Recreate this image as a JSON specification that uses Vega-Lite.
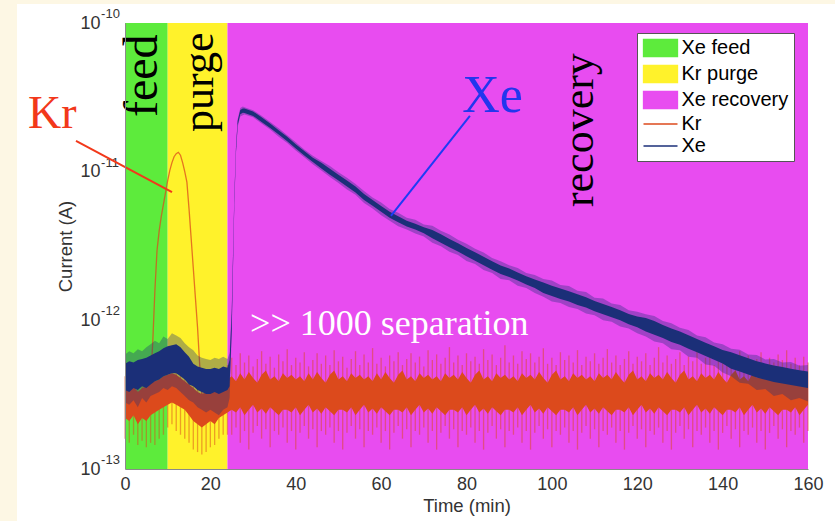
{
  "$schema": "https://vega.github.io/schema/vega-lite/v6.json",
  "width": 683,
  "height": 446,
  "autosize": "none",
  "padding": {"left": 125, "top": 23, "right": 27, "bottom": 52},
  "background": "#FDF7E4",
  "config": {
    "view": {"stroke": null},
    "font": "Liberation Sans",
    "axis": {"grid": false, "ticks": false, "domainColor": "#8a8a8a", "labelColor": "#333333", "titleColor": "#333333", "labelFont": "Liberation Sans", "titleFont": "Liberation Sans", "titleFontWeight": "normal", "labelFontSize": 18, "titleFontSize": 18.5}
  },
  "datasets": {
    "panel": [{"t": -25.3, "t2": 200, "v": 1.343e-10, "v2": 3e-14}],
    "regions": [
      {"t": 0, "t2": 10, "label": "Xe feed"},
      {"t": 10, "t2": 24, "label": "Kr purge"},
      {"t": 24, "t2": 160, "label": "Xe recovery"}
    ],
    "exponents": [
      {"t": -5.6, "v": 1e-10, "text": "-10"},
      {"t": -5.6, "v": 1e-11, "text": "-11"},
      {"t": -5.6, "v": 1e-12, "text": "-12"},
      {"t": -5.6, "v": 1e-13, "text": "-13"}
    ],
    "kr": [
      {"t":0,"lo":2.2e-13,"hi":3.5e-13,"slo":1.6e-13,"shi":4.2e-13},
      {"t":1,"lo":2.1e-13,"hi":3.4e-13,"slo":1.5e-13,"shi":4.0e-13},
      {"t":2,"lo":2.3e-13,"hi":3.6e-13,"slo":1.7e-13,"shi":4.4e-13},
      {"t":3,"lo":2.0e-13,"hi":3.3e-13,"slo":1.45e-13,"shi":3.9e-13},
      {"t":4,"lo":2.2e-13,"hi":3.5e-13,"slo":1.55e-13,"shi":4.3e-13},
      {"t":5,"lo":2.1e-13,"hi":3.6e-13,"slo":1.4e-13,"shi":4.5e-13},
      {"t":6,"lo":2.3e-13,"hi":3.8e-13,"slo":1.5e-13,"shi":4.8e-13},
      {"t":7,"lo":2.4e-13,"hi":3.9e-13,"slo":1.45e-13,"shi":5.0e-13},
      {"t":8,"lo":2.5e-13,"hi":4.0e-13,"slo":1.6e-13,"shi":5.2e-13},
      {"t":9,"lo":2.6e-13,"hi":4.2e-13,"slo":1.7e-13,"shi":5.5e-13},
      {"t":10,"lo":2.7e-13,"hi":4.3e-13,"slo":1.9e-13,"shi":5.6e-13},
      {"t":11,"lo":2.8e-13,"hi":4.4e-13,"slo":2.0e-13,"shi":5.8e-13},
      {"t":12,"lo":2.7e-13,"hi":4.3e-13,"slo":1.8e-13,"shi":5.7e-13},
      {"t":13,"lo":2.6e-13,"hi":4.1e-13,"slo":1.7e-13,"shi":5.3e-13},
      {"t":14,"lo":2.5e-13,"hi":3.9e-13,"slo":1.6e-13,"shi":5.0e-13},
      {"t":15,"lo":2.3e-13,"hi":3.7e-13,"slo":1.5e-13,"shi":4.6e-13},
      {"t":16,"lo":2.1e-13,"hi":3.5e-13,"slo":1.35e-13,"shi":4.4e-13},
      {"t":17,"lo":2.0e-13,"hi":3.3e-13,"slo":1.3e-13,"shi":4.2e-13},
      {"t":18,"lo":1.9e-13,"hi":3.2e-13,"slo":1.25e-13,"shi":4.0e-13},
      {"t":19,"lo":2.0e-13,"hi":3.3e-13,"slo":1.3e-13,"shi":4.1e-13},
      {"t":20,"lo":2.1e-13,"hi":3.4e-13,"slo":1.4e-13,"shi":4.2e-13},
      {"t":21,"lo":2.0e-13,"hi":3.3e-13,"slo":1.45e-13,"shi":4.1e-13},
      {"t":22,"lo":2.2e-13,"hi":3.5e-13,"slo":1.6e-13,"shi":4.3e-13},
      {"t":23,"lo":2.3e-13,"hi":3.7e-13,"slo":1.7e-13,"shi":4.6e-13},
      {"t":24,"lo":2.4e-13,"hi":4.0e-13,"slo":1.7e-13,"shi":5.0e-13},
      {"t":25,"lo":2.5e-13,"hi":4.2e-13,"slo":1.7e-13,"shi":5.6e-13},
      {"t":26,"lo":2.4e-13,"hi":3.9e-13,"slo":1.9e-13,"shi":5.0e-13},
      {"t":27,"lo":2.6e-13,"hi":4.4e-13,"slo":1.5e-13,"shi":6.0e-13},
      {"t":28,"lo":2.3e-13,"hi":4.0e-13,"slo":1.8e-13,"shi":5.2e-13},
      {"t":29,"lo":2.5e-13,"hi":4.5e-13,"slo":1.35e-13,"shi":5.8e-13},
      {"t":30,"lo":2.7e-13,"hi":4.1e-13,"slo":1.75e-13,"shi":4.9e-13},
      {"t":31,"lo":2.4e-13,"hi":3.8e-13,"slo":1.95e-13,"shi":5.5e-13},
      {"t":32,"lo":2.55e-13,"hi":4.3e-13,"slo":1.6e-13,"shi":6.2e-13},
      {"t":33,"lo":2.35e-13,"hi":4.6e-13,"slo":1.85e-13,"shi":5.1e-13},
      {"t":34,"lo":2.6e-13,"hi":4.0e-13,"slo":1.4e-13,"shi":5.7e-13},
      {"t":35,"lo":2.45e-13,"hi":4.2e-13,"slo":1.8e-13,"shi":4.8e-13},
      {"t":36,"lo":2.3e-13,"hi":3.9e-13,"slo":1.7e-13,"shi":5.9e-13},
      {"t":37,"lo":2.5e-13,"hi":4.4e-13,"slo":1.9e-13,"shi":5.3e-13},
      {"t":38,"lo":2.5e-13,"hi":4.1e-13,"slo":1.5e-13,"shi":6.4e-13},
      {"t":39,"lo":2.4e-13,"hi":4.3e-13,"slo":1.8e-13,"shi":5.0e-13},
      {"t":40,"lo":2.6e-13,"hi":4.0e-13,"slo":1.35e-13,"shi":5.6e-13},
      {"t":41,"lo":2.3e-13,"hi":4.2e-13,"slo":1.75e-13,"shi":5.2e-13},
      {"t":42,"lo":2.5e-13,"hi":3.9e-13,"slo":1.95e-13,"shi":6.1e-13},
      {"t":43,"lo":2.7e-13,"hi":4.4e-13,"slo":1.6e-13,"shi":4.9e-13},
      {"t":44,"lo":2.4e-13,"hi":4.0e-13,"slo":1.85e-13,"shi":5.4e-13},
      {"t":45,"lo":2.55e-13,"hi":4.5e-13,"slo":1.4e-13,"shi":6.0e-13},
      {"t":46,"lo":2.35e-13,"hi":4.1e-13,"slo":1.8e-13,"shi":5.1e-13},
      {"t":47,"lo":2.6e-13,"hi":3.8e-13,"slo":1.7e-13,"shi":5.8e-13},
      {"t":48,"lo":2.45e-13,"hi":4.3e-13,"slo":1.9e-13,"shi":5.0e-13},
      {"t":49,"lo":2.3e-13,"hi":4.6e-13,"slo":1.5e-13,"shi":6.3e-13},
      {"t":50,"lo":2.5e-13,"hi":4.0e-13,"slo":1.8e-13,"shi":5.3e-13},
      {"t":51,"lo":2.5e-13,"hi":4.2e-13,"slo":1.35e-13,"shi":5.7e-13},
      {"t":52,"lo":2.4e-13,"hi":3.9e-13,"slo":1.75e-13,"shi":4.8e-13},
      {"t":53,"lo":2.6e-13,"hi":4.4e-13,"slo":1.95e-13,"shi":5.5e-13},
      {"t":54,"lo":2.3e-13,"hi":4.1e-13,"slo":1.6e-13,"shi":6.2e-13},
      {"t":55,"lo":2.5e-13,"hi":4.3e-13,"slo":1.85e-13,"shi":5.0e-13},
      {"t":56,"lo":2.7e-13,"hi":4.0e-13,"slo":1.4e-13,"shi":5.9e-13},
      {"t":57,"lo":2.4e-13,"hi":4.2e-13,"slo":1.8e-13,"shi":5.2e-13},
      {"t":58,"lo":2.55e-13,"hi":3.9e-13,"slo":1.7e-13,"shi":6.5e-13},
      {"t":59,"lo":2.35e-13,"hi":4.4e-13,"slo":1.9e-13,"shi":5.1e-13},
      {"t":60,"lo":2.6e-13,"hi":4.0e-13,"slo":1.5e-13,"shi":5.6e-13},
      {"t":61,"lo":2.45e-13,"hi":4.5e-13,"slo":1.8e-13,"shi":4.9e-13},
      {"t":62,"lo":2.3e-13,"hi":4.1e-13,"slo":1.35e-13,"shi":5.8e-13},
      {"t":63,"lo":2.5e-13,"hi":3.8e-13,"slo":1.75e-13,"shi":5.3e-13},
      {"t":64,"lo":2.5e-13,"hi":4.3e-13,"slo":1.95e-13,"shi":6.1e-13},
      {"t":65,"lo":2.4e-13,"hi":4.6e-13,"slo":1.6e-13,"shi":5.0e-13},
      {"t":66,"lo":2.6e-13,"hi":4.0e-13,"slo":1.85e-13,"shi":5.5e-13},
      {"t":67,"lo":2.3e-13,"hi":4.2e-13,"slo":1.4e-13,"shi":6.0e-13},
      {"t":68,"lo":2.5e-13,"hi":3.9e-13,"slo":1.8e-13,"shi":5.2e-13},
      {"t":69,"lo":2.7e-13,"hi":4.4e-13,"slo":1.7e-13,"shi":5.7e-13},
      {"t":70,"lo":2.4e-13,"hi":4.1e-13,"slo":1.9e-13,"shi":4.9e-13},
      {"t":71,"lo":2.55e-13,"hi":4.3e-13,"slo":1.5e-13,"shi":6.3e-13},
      {"t":72,"lo":2.35e-13,"hi":4.0e-13,"slo":1.8e-13,"shi":5.4e-13},
      {"t":73,"lo":2.6e-13,"hi":4.2e-13,"slo":1.35e-13,"shi":5.9e-13},
      {"t":74,"lo":2.45e-13,"hi":3.9e-13,"slo":1.75e-13,"shi":5.1e-13},
      {"t":75,"lo":2.3e-13,"hi":4.4e-13,"slo":1.95e-13,"shi":5.6e-13},
      {"t":76,"lo":2.5e-13,"hi":4.1e-13,"slo":1.6e-13,"shi":6.6e-13},
      {"t":77,"lo":2.5e-13,"hi":4.3e-13,"slo":1.85e-13,"shi":5.2e-13},
      {"t":78,"lo":2.4e-13,"hi":4.0e-13,"slo":1.4e-13,"shi":5.8e-13},
      {"t":79,"lo":2.6e-13,"hi":4.5e-13,"slo":1.8e-13,"shi":5.0e-13},
      {"t":80,"lo":2.3e-13,"hi":4.1e-13,"slo":1.7e-13,"shi":6.0e-13},
      {"t":81,"lo":2.5e-13,"hi":3.8e-13,"slo":1.9e-13,"shi":5.3e-13},
      {"t":82,"lo":2.7e-13,"hi":4.3e-13,"slo":1.5e-13,"shi":5.7e-13},
      {"t":83,"lo":2.4e-13,"hi":4.6e-13,"slo":1.8e-13,"shi":5.1e-13},
      {"t":84,"lo":2.55e-13,"hi":4.0e-13,"slo":1.35e-13,"shi":6.4e-13},
      {"t":85,"lo":2.35e-13,"hi":4.2e-13,"slo":1.75e-13,"shi":5.4e-13},
      {"t":86,"lo":2.6e-13,"hi":3.9e-13,"slo":1.95e-13,"shi":5.9e-13},
      {"t":87,"lo":2.45e-13,"hi":4.4e-13,"slo":1.6e-13,"shi":5.0e-13},
      {"t":88,"lo":2.3e-13,"hi":4.1e-13,"slo":1.85e-13,"shi":5.6e-13},
      {"t":89,"lo":2.5e-13,"hi":4.3e-13,"slo":1.4e-13,"shi":6.8e-13},
      {"t":90,"lo":2.5e-13,"hi":4.0e-13,"slo":1.8e-13,"shi":5.2e-13},
      {"t":91,"lo":2.4e-13,"hi":4.2e-13,"slo":1.7e-13,"shi":5.8e-13},
      {"t":92,"lo":2.6e-13,"hi":3.9e-13,"slo":1.9e-13,"shi":5.1e-13},
      {"t":93,"lo":2.3e-13,"hi":4.4e-13,"slo":1.5e-13,"shi":6.2e-13},
      {"t":94,"lo":2.5e-13,"hi":4.1e-13,"slo":1.8e-13,"shi":5.5e-13},
      {"t":95,"lo":2.7e-13,"hi":4.3e-13,"slo":1.35e-13,"shi":6.0e-13},
      {"t":96,"lo":2.4e-13,"hi":4.0e-13,"slo":1.75e-13,"shi":5.2e-13},
      {"t":97,"lo":2.55e-13,"hi":4.5e-13,"slo":1.95e-13,"shi":5.7e-13},
      {"t":98,"lo":2.35e-13,"hi":4.1e-13,"slo":1.6e-13,"shi":6.5e-13},
      {"t":99,"lo":2.6e-13,"hi":3.8e-13,"slo":1.85e-13,"shi":5.1e-13},
      {"t":100,"lo":2.45e-13,"hi":4.3e-13,"slo":1.4e-13,"shi":5.6e-13},
      {"t":101,"lo":2.3e-13,"hi":4.6e-13,"slo":1.8e-13,"shi":5.0e-13},
      {"t":102,"lo":2.5e-13,"hi":4.0e-13,"slo":1.7e-13,"shi":6.1e-13},
      {"t":103,"lo":2.5e-13,"hi":4.2e-13,"slo":1.9e-13,"shi":5.4e-13},
      {"t":104,"lo":2.4e-13,"hi":3.9e-13,"slo":1.5e-13,"shi":5.8e-13},
      {"t":105,"lo":2.6e-13,"hi":4.4e-13,"slo":1.8e-13,"shi":5.2e-13},
      {"t":106,"lo":2.3e-13,"hi":4.1e-13,"slo":1.35e-13,"shi":6.3e-13},
      {"t":107,"lo":2.5e-13,"hi":4.3e-13,"slo":1.75e-13,"shi":5.0e-13},
      {"t":108,"lo":2.7e-13,"hi":4.0e-13,"slo":1.95e-13,"shi":5.7e-13},
      {"t":109,"lo":2.4e-13,"hi":4.2e-13,"slo":1.6e-13,"shi":5.3e-13},
      {"t":110,"lo":2.55e-13,"hi":3.9e-13,"slo":1.85e-13,"shi":6.0e-13},
      {"t":111,"lo":2.35e-13,"hi":4.4e-13,"slo":1.4e-13,"shi":5.1e-13},
      {"t":112,"lo":2.6e-13,"hi":4.1e-13,"slo":1.8e-13,"shi":5.6e-13},
      {"t":113,"lo":2.45e-13,"hi":4.3e-13,"slo":1.7e-13,"shi":6.4e-13},
      {"t":114,"lo":2.3e-13,"hi":4.0e-13,"slo":1.9e-13,"shi":5.2e-13},
      {"t":115,"lo":2.5e-13,"hi":4.5e-13,"slo":1.5e-13,"shi":5.8e-13},
      {"t":116,"lo":2.5e-13,"hi":4.1e-13,"slo":1.8e-13,"shi":5.0e-13},
      {"t":117,"lo":2.4e-13,"hi":3.8e-13,"slo":1.35e-13,"shi":5.5e-13},
      {"t":118,"lo":2.6e-13,"hi":4.3e-13,"slo":1.75e-13,"shi":6.2e-13},
      {"t":119,"lo":2.3e-13,"hi":4.6e-13,"slo":1.95e-13,"shi":5.1e-13},
      {"t":120,"lo":2.5e-13,"hi":4.0e-13,"slo":1.6e-13,"shi":5.7e-13},
      {"t":121,"lo":2.7e-13,"hi":4.2e-13,"slo":1.85e-13,"shi":5.3e-13},
      {"t":122,"lo":2.4e-13,"hi":3.9e-13,"slo":1.4e-13,"shi":6.0e-13},
      {"t":123,"lo":2.55e-13,"hi":4.4e-13,"slo":1.8e-13,"shi":5.0e-13},
      {"t":124,"lo":2.35e-13,"hi":4.1e-13,"slo":1.7e-13,"shi":5.6e-13},
      {"t":125,"lo":2.6e-13,"hi":4.3e-13,"slo":1.9e-13,"shi":6.6e-13},
      {"t":126,"lo":2.45e-13,"hi":4.0e-13,"slo":1.5e-13,"shi":5.2e-13},
      {"t":127,"lo":2.3e-13,"hi":4.5e-13,"slo":1.8e-13,"shi":5.8e-13},
      {"t":128,"lo":2.5e-13,"hi":4.1e-13,"slo":1.35e-13,"shi":5.1e-13},
      {"t":129,"lo":2.5e-13,"hi":3.8e-13,"slo":1.75e-13,"shi":5.5e-13},
      {"t":130,"lo":2.4e-13,"hi":4.3e-13,"slo":1.95e-13,"shi":6.1e-13},
      {"t":131,"lo":2.6e-13,"hi":4.6e-13,"slo":1.6e-13,"shi":5.0e-13},
      {"t":132,"lo":2.3e-13,"hi":4.0e-13,"slo":1.85e-13,"shi":5.7e-13},
      {"t":133,"lo":2.5e-13,"hi":4.2e-13,"slo":1.4e-13,"shi":5.3e-13},
      {"t":134,"lo":2.7e-13,"hi":3.9e-13,"slo":1.8e-13,"shi":6.3e-13},
      {"t":135,"lo":2.4e-13,"hi":4.4e-13,"slo":1.7e-13,"shi":5.1e-13},
      {"t":136,"lo":2.55e-13,"hi":4.1e-13,"slo":1.9e-13,"shi":5.6e-13},
      {"t":137,"lo":2.35e-13,"hi":4.3e-13,"slo":1.5e-13,"shi":5.9e-13},
      {"t":138,"lo":2.6e-13,"hi":4.0e-13,"slo":1.8e-13,"shi":5.0e-13},
      {"t":139,"lo":2.45e-13,"hi":4.5e-13,"slo":1.35e-13,"shi":5.4e-13},
      {"t":140,"lo":2.3e-13,"hi":4.1e-13,"slo":1.75e-13,"shi":6.0e-13},
      {"t":141,"lo":2.5e-13,"hi":3.8e-13,"slo":1.95e-13,"shi":5.2e-13},
      {"t":142,"lo":2.5e-13,"hi":4.3e-13,"slo":1.6e-13,"shi":5.7e-13},
      {"t":143,"lo":2.4e-13,"hi":4.6e-13,"slo":1.85e-13,"shi":5.0e-13},
      {"t":144,"lo":2.6e-13,"hi":4.0e-13,"slo":1.4e-13,"shi":6.2e-13},
      {"t":145,"lo":2.3e-13,"hi":4.2e-13,"slo":1.8e-13,"shi":5.3e-13},
      {"t":146,"lo":2.5e-13,"hi":3.9e-13,"slo":1.7e-13,"shi":5.8e-13},
      {"t":147,"lo":2.7e-13,"hi":4.4e-13,"slo":1.9e-13,"shi":5.1e-13},
      {"t":148,"lo":2.4e-13,"hi":4.1e-13,"slo":1.5e-13,"shi":5.5e-13},
      {"t":149,"lo":2.55e-13,"hi":4.3e-13,"slo":1.8e-13,"shi":6.1e-13},
      {"t":150,"lo":2.35e-13,"hi":4.0e-13,"slo":1.35e-13,"shi":5.0e-13},
      {"t":151,"lo":2.6e-13,"hi":4.2e-13,"slo":1.75e-13,"shi":5.6e-13},
      {"t":152,"lo":2.45e-13,"hi":3.9e-13,"slo":1.95e-13,"shi":5.2e-13},
      {"t":153,"lo":2.3e-13,"hi":4.4e-13,"slo":1.6e-13,"shi":5.9e-13},
      {"t":154,"lo":2.5e-13,"hi":4.1e-13,"slo":1.85e-13,"shi":5.4e-13},
      {"t":155,"lo":2.5e-13,"hi":4.3e-13,"slo":1.4e-13,"shi":6.3e-13},
      {"t":156,"lo":2.4e-13,"hi":4.0e-13,"slo":1.8e-13,"shi":5.1e-13},
      {"t":157,"lo":2.6e-13,"hi":4.5e-13,"slo":1.7e-13,"shi":5.6e-13},
      {"t":158,"lo":2.3e-13,"hi":4.1e-13,"slo":1.9e-13,"shi":5.0e-13},
      {"t":159,"lo":2.5e-13,"hi":3.8e-13,"slo":1.5e-13,"shi":5.7e-13},
      {"t":160,"lo":2.7e-13,"hi":4.3e-13,"slo":1.8e-13,"shi":5.2e-13}
    ],
    "krpeak": [
      {"t":6.0,"v":3.98e-13},{"t":6.5,"v":7.08e-13},{"t":7.0,"v":1.58e-12},{"t":7.5,"v":2.95e-12},
      {"t":8.0,"v":3.98e-12},{"t":8.5,"v":5.01e-12},{"t":9.0,"v":6.03e-12},{"t":9.5,"v":7.24e-12},
      {"t":10.0,"v":8.71e-12},{"t":10.5,"v":1.02e-11},{"t":11.0,"v":1.15e-11},{"t":11.5,"v":1.26e-11},
      {"t":12.0,"v":1.32e-11},{"t":12.5,"v":1.35e-11},{"t":13.0,"v":1.29e-11},{"t":13.5,"v":1.15e-11},
      {"t":14.0,"v":1.0e-11},{"t":14.5,"v":8.51e-12},{"t":15.0,"v":5.62e-12},{"t":15.5,"v":3.55e-12},
      {"t":16.0,"v":2.24e-12},{"t":16.5,"v":1.41e-12},{"t":17.0,"v":8.91e-13},{"t":17.5,"v":5.01e-13},
      {"t":18.0,"v":3.16e-13}
    ],
    "xe": [
      {"t":0,"lo":3.4e-13,"hi":5.1e-13,"slo":2.8e-13,"shi":5.9e-13},
      {"t":1,"lo":3.3e-13,"hi":5.3e-13,"slo":2.7e-13,"shi":6.2e-13},
      {"t":2,"lo":3.5e-13,"hi":5.2e-13,"slo":2.9e-13,"shi":6.0e-13},
      {"t":3,"lo":3.4e-13,"hi":5.4e-13,"slo":2.6e-13,"shi":6.4e-13},
      {"t":4,"lo":3.6e-13,"hi":5.5e-13,"slo":3.0e-13,"shi":6.2e-13},
      {"t":5,"lo":3.5e-13,"hi":5.6e-13,"slo":2.8e-13,"shi":6.6e-13},
      {"t":6,"lo":3.7e-13,"hi":5.8e-13,"slo":3.1e-13,"shi":6.9e-13},
      {"t":7,"lo":3.9e-13,"hi":6.0e-13,"slo":3.2e-13,"shi":7.3e-13},
      {"t":8,"lo":4.0e-13,"hi":6.2e-13,"slo":3.3e-13,"shi":7.0e-13},
      {"t":9,"lo":4.2e-13,"hi":6.5e-13,"slo":3.5e-13,"shi":7.8e-13},
      {"t":10,"lo":4.3e-13,"hi":6.7e-13,"slo":3.4e-13,"shi":7.5e-13},
      {"t":11,"lo":4.4e-13,"hi":6.8e-13,"slo":3.6e-13,"shi":8.2e-13},
      {"t":12,"lo":4.4e-13,"hi":6.9e-13,"slo":3.5e-13,"shi":7.9e-13},
      {"t":13,"lo":4.2e-13,"hi":6.6e-13,"slo":3.3e-13,"shi":7.6e-13},
      {"t":14,"lo":4.0e-13,"hi":6.1e-13,"slo":3.1e-13,"shi":7.0e-13},
      {"t":15,"lo":3.7e-13,"hi":5.7e-13,"slo":2.9e-13,"shi":6.6e-13},
      {"t":16,"lo":3.6e-13,"hi":5.1e-13,"slo":2.8e-13,"shi":6.3e-13},
      {"t":17,"lo":3.4e-13,"hi":4.9e-13,"slo":2.6e-13,"shi":5.8e-13},
      {"t":18,"lo":3.3e-13,"hi":4.8e-13,"slo":2.5e-13,"shi":5.6e-13},
      {"t":19,"lo":3.2e-13,"hi":4.7e-13,"slo":2.4e-13,"shi":5.5e-13},
      {"t":20,"lo":3.2e-13,"hi":4.7e-13,"slo":2.5e-13,"shi":5.4e-13},
      {"t":21,"lo":3.3e-13,"hi":4.8e-13,"slo":2.4e-13,"shi":5.6e-13},
      {"t":22,"lo":3.2e-13,"hi":4.7e-13,"slo":2.3e-13,"shi":5.5e-13},
      {"t":23,"lo":3.3e-13,"hi":4.9e-13,"slo":2.5e-13,"shi":5.7e-13},
      {"t":24,"lo":3.4e-13,"hi":4.8e-13,"slo":2.6e-13,"shi":5.5e-13},
      {"t":24.5,"lo":3.6e-13,"hi":5.4e-13,"slo":3.0e-13,"shi":6.0e-13},
      {"t":25.0,"lo":8.6e-13,"hi":1.12e-12,"slo":8.0e-13,"shi":1.2e-12},
      {"t":25.3,"lo":2.3e-12,"hi":2.7e-12,"slo":2.2e-12,"shi":2.8e-12},
      {"t":25.6,"lo":6.0e-12,"hi":6.6e-12,"slo":5.8e-12,"shi":6.8e-12},
      {"t":26.0,"lo":1.36e-11,"hi":1.46e-11,"slo":1.32e-11,"shi":1.5e-11},
      {"t":26.4,"lo":2.06e-11,"hi":2.2e-11,"slo":2.0e-11,"shi":2.26e-11},
      {"t":27.0,"lo":2.43e-11,"hi":2.6e-11,"slo":2.35e-11,"shi":2.68e-11},
      {"t":27.6,"lo":2.49e-11,"hi":2.66e-11,"slo":2.4e-11,"shi":2.74e-11},
      {"t":28,"lo":2.48e-11,"hi":2.66e-11,"slo":2.42e-11,"shi":2.71e-11},
      {"t":30,"lo":2.37e-11,"hi":2.54e-11,"slo":2.32e-11,"shi":2.59e-11},
      {"t":32,"lo":2.16e-11,"hi":2.32e-11,"slo":2.11e-11,"shi":2.38e-11},
      {"t":34,"lo":1.97e-11,"hi":2.11e-11,"slo":1.92e-11,"shi":2.16e-11},
      {"t":36,"lo":1.78e-11,"hi":1.9e-11,"slo":1.72e-11,"shi":1.96e-11},
      {"t":38,"lo":1.6e-11,"hi":1.72e-11,"slo":1.56e-11,"shi":1.76e-11},
      {"t":40,"lo":1.43e-11,"hi":1.53e-11,"slo":1.39e-11,"shi":1.58e-11},
      {"t":42,"lo":1.285e-11,"hi":1.377e-11,"slo":1.25e-11,"shi":1.41e-11},
      {"t":44,"lo":1.16e-11,"hi":1.24e-11,"slo":1.12e-11,"shi":1.28e-11},
      {"t":46,"lo":1.05e-11,"hi":1.15e-11,"slo":1.02e-11,"shi":1.18e-11},
      {"t":48,"lo":9.55e-12,"hi":1.047e-11,"slo":9.2e-12,"shi":1.09e-11},
      {"t":50,"lo":8.71e-12,"hi":9.55e-12,"slo":8.4e-12,"shi":9.9e-12},
      {"t":52,"lo":7.95e-12,"hi":8.71e-12,"slo":7.6e-12,"shi":9.1e-12},
      {"t":54,"lo":7.25e-12,"hi":7.95e-12,"slo":7.0e-12,"shi":8.25e-12},
      {"t":56,"lo":6.46e-12,"hi":7.08e-12,"slo":6.15e-12,"shi":7.4e-12},
      {"t":58,"lo":5.89e-12,"hi":6.46e-12,"slo":5.65e-12,"shi":6.7e-12},
      {"t":60,"lo":5.37e-12,"hi":5.88e-12,"slo":5.1e-12,"shi":6.2e-12},
      {"t":62,"lo":4.9e-12,"hi":5.37e-12,"slo":4.68e-12,"shi":5.6e-12},
      {"t":64,"lo":4.57e-12,"hi":5.01e-12,"slo":4.3e-12,"shi":5.3e-12},
      {"t":66,"lo":4.27e-12,"hi":4.68e-12,"slo":4.08e-12,"shi":4.9e-12},
      {"t":68,"lo":4.08e-12,"hi":4.47e-12,"slo":3.84e-12,"shi":4.75e-12},
      {"t":70,"lo":3.85e-12,"hi":4.22e-12,"slo":3.67e-12,"shi":4.42e-12},
      {"t":72,"lo":3.56e-12,"hi":4.05e-12,"slo":3.32e-12,"shi":4.33e-12},
      {"t":74,"lo":3.33e-12,"hi":3.79e-12,"slo":3.15e-12,"shi":4.0e-12},
      {"t":76,"lo":3.1e-12,"hi":3.53e-12,"slo":2.89e-12,"shi":3.78e-12},
      {"t":78,"lo":2.9e-12,"hi":3.3e-12,"slo":2.75e-12,"shi":3.48e-12},
      {"t":80,"lo":2.7e-12,"hi":3.07e-12,"slo":2.51e-12,"shi":3.28e-12},
      {"t":82,"lo":2.52e-12,"hi":2.87e-12,"slo":2.39e-12,"shi":3.03e-12},
      {"t":84,"lo":2.35e-12,"hi":2.68e-12,"slo":2.18e-12,"shi":2.86e-12},
      {"t":86,"lo":2.19e-12,"hi":2.5e-12,"slo":2.08e-12,"shi":2.63e-12},
      {"t":88,"lo":2.05e-12,"hi":2.34e-12,"slo":1.9e-12,"shi":2.5e-12},
      {"t":90,"lo":1.96e-12,"hi":2.23e-12,"slo":1.86e-12,"shi":2.35e-12},
      {"t":92,"lo":1.85e-12,"hi":2.1e-12,"slo":1.71e-12,"shi":2.25e-12},
      {"t":94,"lo":1.74e-12,"hi":1.98e-12,"slo":1.65e-12,"shi":2.08e-12},
      {"t":96,"lo":1.65e-12,"hi":1.88e-12,"slo":1.53e-12,"shi":2.02e-12},
      {"t":98,"lo":1.53e-12,"hi":1.8e-12,"slo":1.44e-12,"shi":1.9e-12},
      {"t":100,"lo":1.46e-12,"hi":1.71e-12,"slo":1.34e-12,"shi":1.85e-12},
      {"t":102,"lo":1.39e-12,"hi":1.64e-12,"slo":1.31e-12,"shi":1.73e-12},
      {"t":104,"lo":1.34e-12,"hi":1.57e-12,"slo":1.23e-12,"shi":1.7e-12},
      {"t":106,"lo":1.27e-12,"hi":1.5e-12,"slo":1.19e-12,"shi":1.58e-12},
      {"t":108,"lo":1.22e-12,"hi":1.43e-12,"slo":1.11e-12,"shi":1.55e-12},
      {"t":110,"lo":1.15e-12,"hi":1.35e-12,"slo":1.08e-12,"shi":1.42e-12},
      {"t":112,"lo":1.1e-12,"hi":1.29e-12,"slo":1.0e-12,"shi":1.4e-12},
      {"t":114,"lo":1.05e-12,"hi":1.23e-12,"slo":9.8e-13,"shi":1.3e-12},
      {"t":116,"lo":1.0e-12,"hi":1.17e-12,"slo":9.1e-13,"shi":1.27e-12},
      {"t":118,"lo":9.4e-13,"hi":1.105e-12,"slo":8.8e-13,"shi":1.17e-12},
      {"t":120,"lo":9.0e-13,"hi":1.06e-12,"slo":8.2e-13,"shi":1.14e-12},
      {"t":122,"lo":8.4e-13,"hi":1.035e-12,"slo":7.8e-13,"shi":1.1e-12},
      {"t":124,"lo":8.0e-13,"hi":9.9e-13,"slo":7.2e-13,"shi":1.07e-12},
      {"t":126,"lo":7.6e-13,"hi":9.3e-13,"slo":7.0e-13,"shi":9.9e-13},
      {"t":128,"lo":7.16e-13,"hi":8.8e-13,"slo":6.4e-13,"shi":9.55e-13},
      {"t":130,"lo":6.84e-13,"hi":8.42e-13,"slo":6.3e-13,"shi":8.9e-13},
      {"t":132,"lo":6.45e-13,"hi":7.94e-13,"slo":5.7e-13,"shi":8.6e-13},
      {"t":134,"lo":6.1e-13,"hi":7.5e-13,"slo":5.6e-13,"shi":7.9e-13},
      {"t":136,"lo":5.75e-13,"hi":7.08e-13,"slo":5.05e-13,"shi":7.7e-13},
      {"t":138,"lo":5.44e-13,"hi":6.69e-13,"slo":4.95e-13,"shi":7.1e-13},
      {"t":140,"lo":5.13e-13,"hi":6.31e-13,"slo":4.45e-13,"shi":6.9e-13},
      {"t":142,"lo":4.73e-13,"hi":6.1e-13,"slo":4.2e-13,"shi":6.45e-13},
      {"t":144,"lo":4.52e-13,"hi":5.82e-13,"slo":3.8e-13,"shi":6.35e-13},
      {"t":146,"lo":4.32e-13,"hi":5.56e-13,"slo":3.75e-13,"shi":5.9e-13},
      {"t":148,"lo":4.12e-13,"hi":5.31e-13,"slo":3.4e-13,"shi":5.85e-13},
      {"t":150,"lo":3.98e-13,"hi":5.13e-13,"slo":3.45e-13,"shi":5.45e-13},
      {"t":152,"lo":3.85e-13,"hi":4.96e-13,"slo":3.1e-13,"shi":5.5e-13},
      {"t":154,"lo":3.76e-13,"hi":4.85e-13,"slo":3.2e-13,"shi":5.2e-13},
      {"t":156,"lo":3.67e-13,"hi":4.73e-13,"slo":2.9e-13,"shi":5.25e-13},
      {"t":158,"lo":3.59e-13,"hi":4.62e-13,"slo":3.0e-13,"shi":4.95e-13},
      {"t":160,"lo":3.51e-13,"hi":4.52e-13,"slo":2.85e-13,"shi":5.0e-13}
    ],
    "feednote": [{"t": 7.5, "v": 2.33e-11, "text": "feed"}],
    "phases": [
      {"t": 20.6, "v": 1.85e-11, "text": "purge"},
      {"t": 109.6, "v": 5.78e-12, "text": "recovery"}
    ],
    "krnote": [{"t": -22.7, "v": 1.97e-11, "text": "Kr"}],
    "xenote": [{"t": 79, "v": 2.52e-11, "text": "Xe"}],
    "sepnote": [{"t": 29.3, "v": 7.96e-13, "text": ">> 1000 separation"}],
    "krptr": [{"t": -11.48, "v": 1.61e-11, "t2": 11.01, "v2": 7.29e-12}],
    "xeptr": [{"t": 62.3, "v": 5.04e-12, "t2": 80.8, "v2": 2.37e-11}]
  },
  "layer": [
    {
      "data": {"name": "panel"},
      "mark": {"type": "rect", "color": "white"},
      "encoding": {
        "x": {"field": "t", "type": "quantitative", "title": "Time (min)", "scale": {"domain": [0, 160], "nice": false, "zero": false},
              "axis": {"zindex": 2, "values": [0, 20, 40, 60, 80, 100, 120, 140, 160], "labelFlush": false, "labelPadding": 6, "titlePadding": 3, "labelOverlap": false}},
        "x2": {"field": "t2"},
        "y": {"field": "v", "type": "quantitative", "title": "Current (A)", "scale": {"type": "log", "domain": [1e-13, 1e-10], "nice": false},
              "axis": {"zindex": 2, "values": [1e-13, 1e-12, 1e-11, 1e-10], "labelPadding": 25, "titlePadding": 4, "labelOverlap": false, "labelBound": false,
                       "labelExpr": "'10'"}},
        "y2": {"field": "v2"}
      }
    },
    {
      "data": {"name": "exponents"},
      "mark": {"type": "text", "align": "left", "baseline": "middle", "dy": -9, "fontSize": 13, "font": "Liberation Sans", "color": "#333333"},
      "encoding": {
        "x": {"field": "t", "type": "quantitative", "title": "Time (min)", "scale": {"domain": [0, 160], "nice": false, "zero": false}},
        "y": {"field": "v", "type": "quantitative", "title": "Current (A)", "scale": {"type": "log", "domain": [1e-13, 1e-10], "nice": false}},
        "text": {"field": "text"}
      }
    },
    {
      "data": {"name": "regions"},
      "mark": {"type": "rect"},
      "encoding": {
        "x": {"field": "t", "type": "quantitative", "title": "Time (min)", "scale": {"domain": [0, 160], "nice": false, "zero": false}},
        "x2": {"field": "t2"},
        "color": {"field": "label", "type": "nominal",
          "scale": {"domain": ["Xe feed", "Kr purge", "Xe recovery", "Kr", "Xe"], "range": ["#5DEB3C", "#FFF22B", "#E84CF0", "#DC4A1C", "#1B2F78"]},
          "legend": {"title": null, "orient": "none", "legendX": 512, "legendY": 10, "padding": 5, "fillColor": "white", "strokeColor": "#555555",
                     "labelFont": "Liberation Sans", "labelFontSize": 20, "labelColor": "black", "symbolSize": 289, "symbolOffset": 8.5, "labelOffset": 11,
                     "rowPadding": 2, "symbolOpacity": 1,
                     "encode": {"symbols": {"update": {
                        "shape": {"signal": "datum.value === 'Kr' || datum.value === 'Xe' ? 'M-2,0H2' : 'M-2,-1H2V1H-2Z'"},
                        "stroke": {"signal": "datum.value === 'Kr' ? '#c99c78' : datum.value === 'Xe' ? '#6c6c7c' : 'transparent'"},
                        "strokeWidth": {"value": 1.3},
                        "opacity": {"value": 1}
                     }}}}}
      }
    },
    {
      "data": {"name": "kr"},
      "mark": {"type": "rule", "opacity": 0.5, "strokeWidth": 1.3},
      "encoding": {
        "x": {"field": "t", "type": "quantitative", "title": "Time (min)", "scale": {"domain": [0, 160], "nice": false, "zero": false}},
        "y": {"field": "slo", "type": "quantitative", "title": "Current (A)", "scale": {"type": "log", "domain": [1e-13, 1e-10], "nice": false}},
        "y2": {"field": "shi"},
        "color": {"datum": "Kr", "type": "nominal"}
      }
    },
    {
      "data": {"name": "kr"},
      "mark": {"type": "area", "opacity": 1},
      "encoding": {
        "x": {"field": "t", "type": "quantitative", "title": "Time (min)", "scale": {"domain": [0, 160], "nice": false, "zero": false}},
        "y": {"field": "lo", "type": "quantitative", "title": "Current (A)", "scale": {"type": "log", "domain": [1e-13, 1e-10], "nice": false}},
        "y2": {"field": "hi"},
        "color": {"datum": "Kr", "type": "nominal"}
      }
    },
    {
      "data": {"name": "krpeak"},
      "mark": {"type": "line", "strokeWidth": 1.3, "opacity": 0.75},
      "encoding": {
        "x": {"field": "t", "type": "quantitative", "title": "Time (min)", "scale": {"domain": [0, 160], "nice": false, "zero": false}},
        "y": {"field": "v", "type": "quantitative", "title": "Current (A)", "scale": {"type": "log", "domain": [1e-13, 1e-10], "nice": false}},
        "color": {"datum": "Kr", "type": "nominal"}
      }
    },
    {
      "data": {"name": "xe"},
      "mark": {"type": "area", "opacity": 0.35},
      "encoding": {
        "x": {"field": "t", "type": "quantitative", "title": "Time (min)", "scale": {"domain": [0, 160], "nice": false, "zero": false}},
        "y": {"field": "slo", "type": "quantitative", "title": "Current (A)", "scale": {"type": "log", "domain": [1e-13, 1e-10], "nice": false}},
        "y2": {"field": "shi"},
        "color": {"datum": "Xe", "type": "nominal"}
      }
    },
    {
      "data": {"name": "xe"},
      "mark": {"type": "area", "opacity": 1},
      "encoding": {
        "x": {"field": "t", "type": "quantitative", "title": "Time (min)", "scale": {"domain": [0, 160], "nice": false, "zero": false}},
        "y": {"field": "lo", "type": "quantitative", "title": "Current (A)", "scale": {"type": "log", "domain": [1e-13, 1e-10], "nice": false}},
        "y2": {"field": "hi"},
        "color": {"datum": "Xe", "type": "nominal"}
      }
    },
    {
      "data": {"name": "krptr"},
      "mark": {"type": "rule", "color": "#F2381A", "strokeWidth": 2},
      "encoding": {
        "x": {"field": "t", "type": "quantitative", "title": "Time (min)", "scale": {"domain": [0, 160], "nice": false, "zero": false}},
        "x2": {"field": "t2"},
        "y": {"field": "v", "type": "quantitative", "title": "Current (A)", "scale": {"type": "log", "domain": [1e-13, 1e-10], "nice": false}},
        "y2": {"field": "v2"}
      }
    },
    {
      "data": {"name": "xeptr"},
      "mark": {"type": "rule", "color": "#1E3CF5", "strokeWidth": 2},
      "encoding": {
        "x": {"field": "t", "type": "quantitative", "title": "Time (min)", "scale": {"domain": [0, 160], "nice": false, "zero": false}},
        "x2": {"field": "t2"},
        "y": {"field": "v", "type": "quantitative", "title": "Current (A)", "scale": {"type": "log", "domain": [1e-13, 1e-10], "nice": false}},
        "y2": {"field": "v2"}
      }
    },
    {
      "data": {"name": "feednote"},
      "mark": {"type": "text", "angle": 270, "align": "left", "baseline": "alphabetic", "font": "Liberation Serif", "fontSize": 48, "color": "black"},
      "encoding": {
        "x": {"field": "t", "type": "quantitative", "title": "Time (min)", "scale": {"domain": [0, 160], "nice": false, "zero": false}},
        "y": {"field": "v", "type": "quantitative", "title": "Current (A)", "scale": {"type": "log", "domain": [1e-13, 1e-10], "nice": false}},
        "text": {"field": "text"}
      }
    },
    {
      "data": {"name": "phases"},
      "mark": {"type": "text", "angle": 270, "align": "left", "baseline": "alphabetic", "font": "Liberation Serif", "fontSize": 44, "color": "black"},
      "encoding": {
        "x": {"field": "t", "type": "quantitative", "title": "Time (min)", "scale": {"domain": [0, 160], "nice": false, "zero": false}},
        "y": {"field": "v", "type": "quantitative", "title": "Current (A)", "scale": {"type": "log", "domain": [1e-13, 1e-10], "nice": false}},
        "text": {"field": "text"}
      }
    },
    {
      "data": {"name": "krnote"},
      "mark": {"type": "text", "align": "left", "baseline": "alphabetic", "font": "Liberation Serif", "fontSize": 46, "color": "#F2381A"},
      "encoding": {
        "x": {"field": "t", "type": "quantitative", "title": "Time (min)", "scale": {"domain": [0, 160], "nice": false, "zero": false}},
        "y": {"field": "v", "type": "quantitative", "title": "Current (A)", "scale": {"type": "log", "domain": [1e-13, 1e-10], "nice": false}},
        "text": {"field": "text"}
      }
    },
    {
      "data": {"name": "xenote"},
      "mark": {"type": "text", "align": "left", "baseline": "alphabetic", "font": "Liberation Serif", "fontSize": 52, "color": "#2236EE"},
      "encoding": {
        "x": {"field": "t", "type": "quantitative", "title": "Time (min)", "scale": {"domain": [0, 160], "nice": false, "zero": false}},
        "y": {"field": "v", "type": "quantitative", "title": "Current (A)", "scale": {"type": "log", "domain": [1e-13, 1e-10], "nice": false}},
        "text": {"field": "text"}
      }
    },
    {
      "data": {"name": "sepnote"},
      "mark": {"type": "text", "align": "left", "baseline": "alphabetic", "font": "Liberation Serif", "fontSize": 36, "color": "white"},
      "encoding": {
        "x": {"field": "t", "type": "quantitative", "title": "Time (min)", "scale": {"domain": [0, 160], "nice": false, "zero": false}},
        "y": {"field": "v", "type": "quantitative", "title": "Current (A)", "scale": {"type": "log", "domain": [1e-13, 1e-10], "nice": false}},
        "text": {"field": "text"}
      }
    }
  ]
}
